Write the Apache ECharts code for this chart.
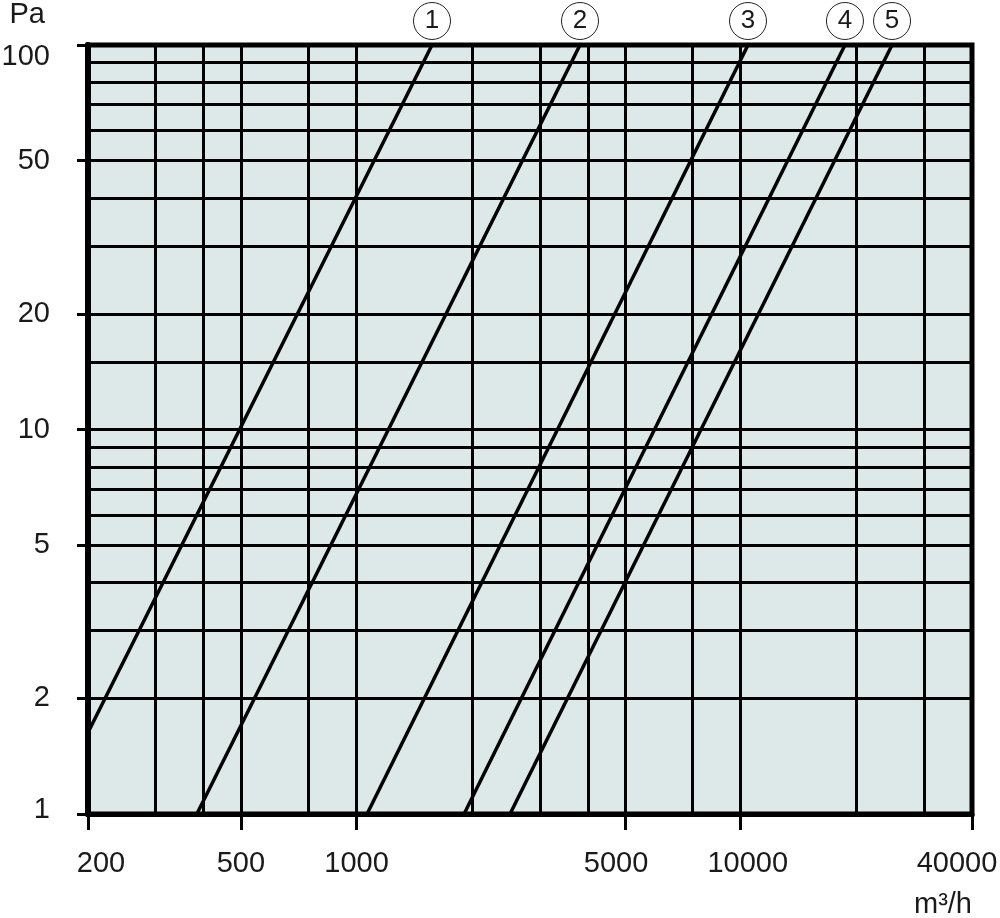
<!DOCTYPE html>
<html>
<head>
<meta charset="utf-8">
<script src="https://cdn.jsdelivr.net/npm/echarts@6/dist/echarts.min.js"></script>
<style>html,body{margin:0;padding:0;background:#fff}#c{width:1000px;height:918px}</style>
</head>
<body>
<div id="c"></div>
<script>
// ---- data ----
const xTickLabels = [200, 500, 1000, 5000, 10000, 40000];
const yTickLabels = [1, 2, 5, 10, 20, 50, 100];
const gridQ = [300, 400, 500, 750, 1000, 2000, 3000, 4000, 5000, 7500, 10000, 20000, 30000];
const gridP = [2, 3, 4, 5, 6, 7, 8, 9, 10, 15, 20, 30, 40, 50, 60, 70, 80, 90];
const curveNames = ['1', '2', '3', '4', '5'];
const curve1 = [[200, 1.63], [1572, 100]];
const curve2 = [[384, 1], [3817, 100]];
const curve3 = [[1065, 1], [10447, 100]];
const curve4 = [[1905, 1], [18680, 100]];
const curve5 = [[2509, 1], [24770, 100]];
const curves = [curve1, curve2, curve3, curve4, curve5];

// ---- styling ----
const FONT = 'Liberation Sans';
const FS = 29;
const TXT = '#1a1a1a';
function rs(pad) { return { fontFamily: FONT, fontSize: FS, color: TXT, padding: pad }; }
const xRich = {
  n: rs([0, 0, 0, 0]),
  a: rs([0, 0, 0, 26]),   // 200
  b: rs([0, 18, 0, 0]),   // 5000
  c: rs([0, 0, 0, 14]),   // 10000
  d: rs([0, 30, 0, 0])    // 40000
};
const xStyleKey = { 200: 'a', 5000: 'b', 10000: 'c', 40000: 'd' };
const yRich = {
  n: rs([0, 0, 0, 0]),
  t: rs([24, 0, 0, 0]),
  b: rs([0, 0, 8, 0])
};

const chart = echarts.init(document.getElementById('c'), null, { renderer: 'canvas' });

const series = [];
// helper series carrying grid lines
series.push({
  type: 'line',
  data: [],
  z: 1,
  silent: true,
  markLine: {
    silent: true,
    symbol: ['none', 'none'],
    label: { show: false },
    lineStyle: { color: '#000', width: 3, type: 'solid' },
    animation: false,
    data: gridQ.map(v => ({ xAxis: v })).concat(gridP.map(v => ({ yAxis: v })))
  }
});
curves.forEach((c, i) => {
  series.push({
    type: 'line',
    name: curveNames[i],
    data: c,
    z: 3,
    symbol: 'none',
    clip: false,
    lineStyle: { color: '#000', width: 3.5 },
    markPoint: {
      symbol: 'circle',
      symbolSize: 37,
      symbolOffset: [0, -24],
      itemStyle: { color: '#fff', borderColor: '#222', borderWidth: 1 },
      label: { show: true, formatter: curveNames[i], color: TXT, fontFamily: FONT, fontSize: 26, position: 'inside' },
      data: [{ coord: c[c.length - 1] }]
    }
  });
});

chart.setOption({
  animation: false,
  backgroundColor: '#fff',
  grid: {
    left: 88, right: 28, top: 45, bottom: 104,
    containLabel: false,
    outerBoundsMode: 'none',
    show: true, backgroundColor: '#dde9e8', borderColor: '#000', borderWidth: 5
  },
  xAxis: {
    type: 'log', logBase: 10, min: 200, max: 40000,
    name: 'm³/h',
    nameLocation: 'end',
    nameGap: 0,
    nameTextStyle: { fontFamily: FONT, fontSize: FS, color: TXT, align: 'right', verticalAlign: 'top', padding: [76, 0, 0, 0] },
    axisLine: { show: true, lineStyle: { color: '#000', width: 5 } },
    axisTick: { show: true, inside: false, length: 16, lineStyle: { color: '#000', width: 3 }, customValues: xTickLabels },
    axisLabel: {
      show: true, margin: 35, customValues: xTickLabels,
      fontFamily: FONT, fontSize: FS, color: TXT,
      formatter: v => '{' + (xStyleKey[v] || 'n') + '|' + v + '}',
      rich: xRich
    },
    splitLine: { show: false },
    minorTick: { show: false }, minorSplitLine: { show: false }
  },
  yAxis: {
    type: 'log', logBase: 10, min: 1, max: 100,
    name: 'Pa',
    nameLocation: 'end',
    nameGap: 16,
    nameTextStyle: { fontFamily: FONT, fontSize: FS, color: TXT, align: 'right', padding: [0, 43, 0, 0] },
    axisLine: { show: true, lineStyle: { color: '#000', width: 6 } },
    axisTick: { show: true, inside: false, length: 11, lineStyle: { color: '#000', width: 3 }, customValues: yTickLabels },
    axisLabel: {
      show: true, margin: 38, customValues: yTickLabels,
      fontFamily: FONT, fontSize: FS, color: TXT,
      formatter: v => '{' + (v === 100 ? 't' : (v === 1 ? 'b' : 'n')) + '|' + v + '}',
      rich: yRich
    },
    splitLine: { show: false },
    minorTick: { show: false }, minorSplitLine: { show: false }
  },
  series: series
});
</script>
</body>
</html>
